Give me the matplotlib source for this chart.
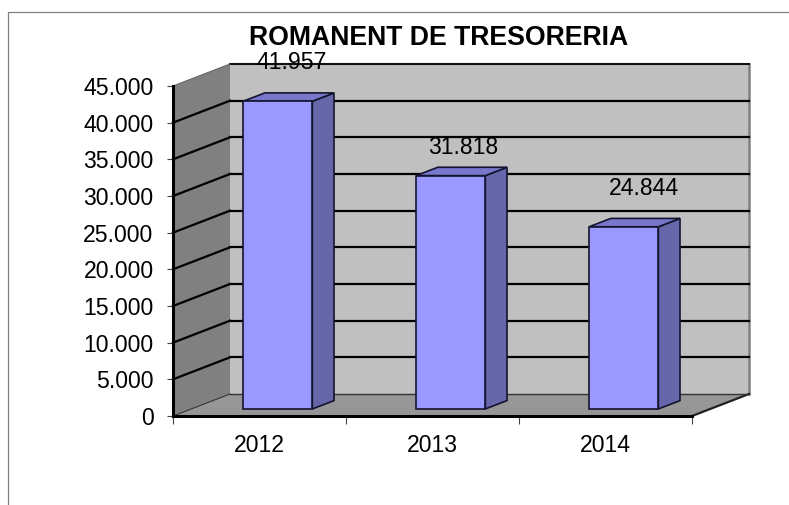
import matplotlib
matplotlib.use("Agg")
import matplotlib.pyplot as plt
from matplotlib.patches import Polygon
from matplotlib.lines import Line2D
from matplotlib.transforms import Affine2D

plt.rcParams['font.family'] = ['Liberation Sans', 'DejaVu Sans']

years = ['2012', '2013', '2014']
values = [41957, 31818, 24844]
value_labels = ['41.957', '31.818', '24.844']
y_ticks = [0, 5000, 10000, 15000, 20000, 25000, 30000, 35000, 40000, 45000]
y_tick_labels = ['0', '5.000', '10.000', '15.000', '20.000', '25.000', '30.000', '35.000', '40.000', '45.000']
title = 'ROMANENT DE TRESORERIA'
label_offsets = [(4, 35), (2, 24), (10, 34)]

W, H = 789, 505
fig = plt.figure(figsize=(W / 100, H / 100), dpi=100, facecolor='white')
ax = fig.add_axes([173 / W, (H - 416) / H, 519 / W, 330 / H])
ax.set_xlim(0, 3)
ax.set_ylim(0, 45000)
ax.patch.set_alpha(0)
for s in ('top', 'right'):
    ax.spines[s].set_visible(False)
for s in ('left', 'bottom'):
    ax.spines[s].set_linewidth(2.2)
    ax.spines[s].set_color('black')
    ax.spines[s].set_zorder(20)

DX, DY = 57, 22


def depth(t):
    return ax.transData + Affine2D().translate(DX * t, DY * t)


back = depth(1)
ax.add_patch(Polygon([(0, 0), (3, 0), (3, 45000), (0, 45000)], closed=True, transform=back,
                     fc='#C0C0C0', ec='none', zorder=1, clip_on=False))
ax.add_line(Line2D([3, 3], [0, 45000], transform=back, color='#808080', lw=1.8, zorder=2, clip_on=False))
ax.add_line(Line2D([0, 3], [45000, 45000], transform=back, color='#111111', lw=1.5, zorder=2, clip_on=False))


def skew(x, y, t):
    p = ax.transData.transform((x, y))
    return (p[0] + DX * t, p[1] + DY * t)


def poly(points, **kw):
    ax.add_patch(Polygon([ax.transData.inverted().transform(p) for p in points], closed=True,
                         transform=ax.transData, clip_on=False, **kw))


def line(p, q, **kw):
    a = ax.transData.inverted().transform(p)
    b = ax.transData.inverted().transform(q)
    ax.add_line(Line2D([a[0], b[0]], [a[1], b[1]], transform=ax.transData, clip_on=False, **kw))


poly([skew(0, 0, 0), skew(0, 0, 1), skew(0, 45000, 1), skew(0, 45000, 0)], fc='#808080', ec='none', zorder=1)
poly([skew(0, 0, 0), skew(3, 0, 0), skew(3, 0, 1), skew(0, 0, 1)], fc='#969696', ec='none', zorder=1)
line(skew(3, 0, 0), skew(3, 0, 1), color='#222222', lw=1.6, zorder=3)
line(skew(0, 0, 1), skew(3, 0, 1), color='#333333', lw=1.0, zorder=3)
line(skew(0, 0, 0), skew(0, 0, 1), color='#333333', lw=0.8, zorder=3)
line(skew(0, 45000, 0), skew(0, 45000, 1), color='#666666', lw=0.8, zorder=3)

for v in y_ticks[1:-1]:
    ax.add_line(Line2D([0, 3], [v, v], transform=back, color='black', lw=1.6, zorder=2, clip_on=False))
    line(skew(0, v, 0), skew(0, v, 1), color='black', lw=1.6, zorder=2)

BAR_W = 0.4
T0, T1 = 0.32, 0.7
for i, (v, lab, off) in enumerate(zip(values, value_labels, label_offsets)):
    x0, x1 = i + 0.5 - BAR_W / 2, i + 0.5 + BAR_W / 2
    ax.bar(i + 0.5, v, width=BAR_W, color='#9999FF', edgecolor='#14142e', linewidth=1.2,
           transform=depth(T0), zorder=6, clip_on=False)
    poly([skew(x1, 0, T0), skew(x1, 0, T1), skew(x1, v, T1), skew(x1, v, T0)],
         fc='#6666AA', ec='#14142e', lw=1.2, zorder=5)
    poly([skew(x0, v, T0), skew(x1, v, T0), skew(x1, v, T1), skew(x0, v, T1)],
         fc='#7777CC', ec='#14142e', lw=1.2, zorder=5)
    px = skew(i + 0.5, v, 0.5)
    ax.annotate(lab, xy=ax.transData.inverted().transform(px), xycoords='data',
                xytext=(off[0] * 0.72, off[1] * 0.72), textcoords='offset points',
                ha='center', va='center', fontsize=16.6, color='black', zorder=10,
                annotation_clip=False)

ax.set_yticks(y_ticks)
ax.set_yticklabels(y_tick_labels, fontsize=16.6)
ax.set_xticks([0, 1, 2, 3])
ax.set_xticklabels([])
ax.set_xticks([0.5, 1.5, 2.5], labels=years, minor=True, fontsize=16.6)
ax.tick_params(axis='y', length=4.5, width=0.8, color='#444444', pad=9.5)
ax.tick_params(axis='x', which='major', length=5.5, width=0.8, color='#444444')
ax.tick_params(axis='x', which='minor', length=0, pad=13)

fig.add_artist(Line2D([8 / W, 8 / W, 1], [0, (H - 12) / H, (H - 12) / H], color='#808080', lw=0.9))
fig.text(439 / W, (H - 38) / H, title, ha='center', va='center', fontsize=19.2, fontweight='bold', color='black')

fig.savefig('out.png', dpi=100)
